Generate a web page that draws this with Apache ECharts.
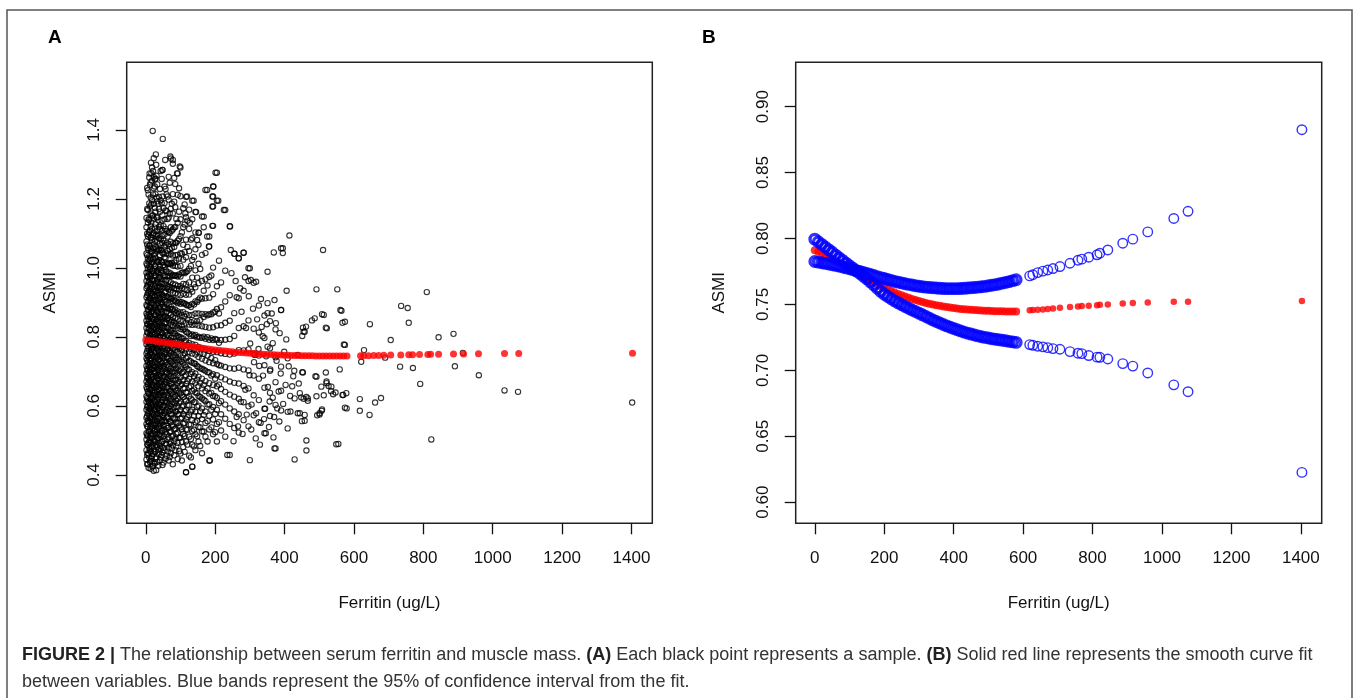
<!DOCTYPE html>
<html><head><meta charset="utf-8">
<script src="https://cdn.jsdelivr.net/npm/echarts@6/dist/echarts.min.js"></script>
<style>html,body{margin:0;padding:0;background:#fff}#c{width:1357px;height:698px}</style>
</head><body><div id="c"></div>
<script>
// ---- tick labels ----
const xTicks = [0, 200, 400, 600, 800, 1000, 1200, 1400];
const yTicksA = [0.4, 0.6, 0.8, 1.0, 1.2, 1.4];
const yTicksB = [0.60, 0.65, 0.70, 0.75, 0.80, 0.85, 0.90];

// ---- panel A samples: dense low-ferritin columns [ferritin, [ASMI values]] ----
const denseColumnsA = [
 [2,[0.445,0.472,0.503,0.521,0.548,0.566,0.589,0.612,0.628,0.655,0.671,0.694,0.716,0.738,0.752,0.779,0.804,0.826,0.847,0.868,0.893,0.915,0.941,0.962,0.986,1.013,1.042,1.077,1.118,1.145]],
 [6,[0.432,0.463,0.487,0.512,0.539,0.557,0.578,0.601,0.619,0.642,0.663,0.685,0.703,0.727,0.745,0.768,0.791,0.812,0.836,0.858,0.879,0.904,0.927,0.951,0.974,0.998,1.026,1.058,1.091,1.132,1.168,1.225]],
 [10,[0.451,0.479,0.496,0.527,0.552,0.571,0.594,0.608,0.635,0.652,0.676,0.698,0.712,0.735,0.761,0.785,0.798,0.821,0.843,0.866,0.887,0.911,0.934,0.958,0.981,1.005,1.034,1.065,1.104,1.139,1.187,1.262]],
 [14,[0.418,0.441,0.468,0.493,0.517,0.544,0.563,0.585,0.606,0.624,0.647,0.668,0.689,0.708,0.731,0.754,0.772,0.795,0.817,0.839,0.861,0.884,0.907,0.929,0.953,0.977,1.002,1.028,1.056,1.089,1.121,1.158,1.204,1.248]],
 [18,[0.425,0.455,0.483,0.508,0.535,0.559,0.581,0.603,0.621,0.644,0.662,0.683,0.706,0.724,0.748,0.766,0.788,0.809,0.831,0.853,0.874,0.898,0.919,0.943,0.966,0.991,1.018,1.047,1.081,1.113,1.152,1.196,1.253,1.291]],
 [23,[0.412,0.436,0.474,0.502,0.528,0.551,0.574,0.596,0.616,0.637,0.659,0.679,0.701,0.719,0.742,0.763,0.786,0.805,0.828,0.849,0.871,0.893,0.915,0.938,0.962,0.985,1.011,1.038,1.069,1.101,1.143,1.186,1.231,1.264,1.318]],
 [28,[0.447,0.469,0.498,0.524,0.547,0.568,0.592,0.611,0.633,0.654,0.673,0.696,0.715,0.737,0.758,0.779,0.801,0.823,0.845,0.863,0.885,0.909,0.931,0.955,0.979,1.004,1.029,1.061,1.094,1.127,1.163,1.214,1.259]],
 [33,[0.438,0.481,0.507,0.531,0.556,0.578,0.598,0.619,0.641,0.661,0.681,0.704,0.722,0.744,0.767,0.789,0.811,0.832,0.854,0.876,0.897,0.921,0.944,0.967,0.993,1.019,1.048,1.076,1.108,1.147,1.193,1.242]],
 [38,[0.461,0.492,0.515,0.541,0.562,0.586,0.606,0.627,0.648,0.667,0.689,0.711,0.733,0.752,0.774,0.796,0.818,0.839,0.861,0.882,0.905,0.926,0.949,0.973,0.997,1.023,1.054,1.086,1.119,1.171,1.206]],
 [43,[0.452,0.476,0.511,0.536,0.558,0.581,0.602,0.623,0.644,0.665,0.686,0.707,0.728,0.749,0.771,0.792,0.814,0.835,0.857,0.879,0.901,0.923,0.946,0.969,0.994,1.021,1.051,1.083,1.124,1.196,1.281]],
 [48,[0.429,0.466,0.498,0.529,0.553,0.574,0.597,0.618,0.639,0.661,0.682,0.703,0.725,0.746,0.768,0.789,0.811,0.833,0.855,0.876,0.899,0.921,0.943,0.967,0.992,1.016,1.044,1.072,1.109,1.153,1.207,1.284]],
 [54,[0.471,0.503,0.532,0.557,0.579,0.601,0.622,0.643,0.664,0.685,0.707,0.729,0.751,0.773,0.795,0.817,0.839,0.861,0.883,0.906,0.929,0.953,0.978,1.003,1.031,1.062,1.097,1.141,1.188,1.236]],
 [60,[0.456,0.488,0.518,0.543,0.567,0.589,0.611,0.632,0.654,0.676,0.697,0.719,0.741,0.762,0.784,0.806,0.828,0.851,0.873,0.895,0.918,0.941,0.965,0.989,1.014,1.042,1.073,1.107,1.165,1.213]],
 [66,[0.442,0.479,0.509,0.537,0.562,0.584,0.606,0.627,0.648,0.671,0.692,0.714,0.736,0.758,0.781,0.803,0.825,0.847,0.869,0.892,0.915,0.938,0.962,0.987,1.012,1.039,1.069,1.104,1.146,1.198,1.264]],
 [72,[0.463,0.495,0.527,0.553,0.577,0.599,0.621,0.642,0.664,0.686,0.708,0.731,0.753,0.775,0.797,0.819,0.842,0.864,0.887,0.911,0.935,0.959,0.984,1.011,1.041,1.076,1.118,1.171,1.317]],
 [78,[0.431,0.486,0.514,0.541,0.566,0.588,0.611,0.633,0.655,0.677,0.699,0.722,0.744,0.766,0.788,0.811,0.834,0.857,0.881,0.904,0.928,0.953,0.979,1.007,1.036,1.071,1.112,1.158,1.214,1.302]],
 [85,[0.472,0.506,0.534,0.561,0.584,0.607,0.629,0.651,0.674,0.696,0.718,0.741,0.763,0.786,0.809,0.832,0.855,0.879,0.903,0.927,0.952,0.978,1.006,1.037,1.073,1.119,1.176,1.243]],
 [92,[0.446,0.493,0.523,0.551,0.576,0.598,0.621,0.644,0.666,0.689,0.712,0.734,0.757,0.781,0.804,0.827,0.851,0.874,0.898,0.923,0.948,0.975,1.004,1.038,1.079,1.131,1.212,1.274]],
 [100,[0.462,0.508,0.538,0.564,0.589,0.613,0.636,0.659,0.683,0.706,0.729,0.752,0.776,0.799,0.823,0.847,0.871,0.896,0.921,0.947,0.975,1.006,1.043,1.092,1.141,1.208,1.291]],
 [108,[0.481,0.519,0.549,0.576,0.601,0.626,0.651,0.675,0.699,0.723,0.747,0.772,0.796,0.821,0.846,0.872,0.898,0.925,0.954,0.987,1.024,1.067,1.118,1.173]],
 [116,[0.408,0.497,0.532,0.561,0.588,0.614,0.639,0.664,0.689,0.714,0.739,0.764,0.789,0.815,0.841,0.867,0.894,0.922,0.953,0.988,1.031,1.082,1.147,1.206]],
 [125,[0.456,0.511,0.546,0.574,0.602,0.628,0.654,0.679,0.705,0.731,0.757,0.783,0.809,0.836,0.863,0.892,0.923,0.958,0.998,1.049,1.113,1.169]],
 [134,[0.424,0.488,0.527,0.559,0.589,0.617,0.644,0.671,0.698,0.725,0.752,0.779,0.807,0.835,0.864,0.896,0.931,0.972,1.023,1.086,1.141,1.195]],
 [143,[0.472,0.518,0.553,0.583,0.611,0.639,0.667,0.694,0.722,0.749,0.777,0.806,0.836,0.868,0.903,0.944,0.993,1.054,1.103,1.162]],
 [152,[0.497,0.539,0.571,0.601,0.629,0.657,0.685,0.713,0.742,0.771,0.801,0.833,0.868,0.908,0.956,1.012,1.067,1.102]],
 [162,[0.463,0.526,0.562,0.593,0.622,0.651,0.679,0.708,0.737,0.767,0.798,0.831,0.867,0.911,0.962,1.038,1.149]],
 [172,[0.511,0.551,0.584,0.614,0.643,0.672,0.702,0.732,0.763,0.795,0.829,0.866,0.912,0.967,1.043,1.226]],
 [183,[0.442,0.532,0.572,0.605,0.636,0.666,0.697,0.727,0.759,0.792,0.827,0.866,0.914,0.974,1.062,1.091]],
 [194,[0.518,0.561,0.597,0.629,0.661,0.692,0.724,0.757,0.791,0.828,0.871,0.924,1.001,1.122,1.178,1.207,1.236]],
 [205,[0.497,0.548,0.589,0.624,0.657,0.689,0.722,0.756,0.792,0.833,0.881,0.947,1.195,1.276]],
 [217,[0.529,0.576,0.614,0.649,0.683,0.717,0.753,0.791,0.834,0.886,0.958]],
 [229,[0.511,0.563,0.604,0.641,0.677,0.713,0.751,0.792,0.841,0.903,0.992,1.168]],
 [242,[0.458,0.548,0.593,0.633,0.671,0.709,0.749,0.794,0.847,0.921,1.121]],
 [255,[0.536,0.584,0.627,0.667,0.708,0.752,0.803,0.869,1.041]],
 [268,[0.523,0.576,0.621,0.665,0.711,0.762,0.826,0.912,1.028]],
 [282,[0.559,0.611,0.658,0.706,0.761,0.831,0.934,1.044]],
 [296,[0.541,0.599,0.651,0.703,0.764,0.848,0.962,0.999]],
 [311,[0.573,0.631,0.688,0.752,0.824,0.957]],
 [326,[0.553,0.617,0.679,0.746,0.813,0.891]],
 [342,[0.521,0.592,0.653,0.718,0.797,0.862]],
 [358,[0.571,0.638,0.702,0.767,0.846]],
 [374,[0.477,0.603,0.669,0.741,0.822]],
 [390,[0.587,0.644,0.714,0.878,1.057]]
];
// second, interleaved set of dense columns
const denseColumnsA2 = [
 [4,[0.431,0.458,0.489,0.516,0.541,0.571,0.597,0.623,0.649,0.681,0.707,0.733,0.759,0.786,0.814,0.838,0.862,0.889,0.921,0.947,0.976,1.008,1.037,1.068,1.099,1.171,1.232]],
 [8,[0.421,0.462,0.494,0.525,0.556,0.584,0.613,0.638,0.667,0.692,0.718,0.744,0.772,0.797,0.824,0.851,0.877,0.902,0.931,0.959,0.988,1.019,1.052,1.096,1.141,1.213]],
 [12,[0.438,0.474,0.506,0.534,0.566,0.592,0.617,0.646,0.673,0.699,0.723,0.751,0.779,0.806,0.832,0.859,0.886,0.913,0.939,0.968,0.996,1.024,1.063,1.109,1.178,1.241]],
 [16,[0.447,0.481,0.512,0.541,0.569,0.598,0.626,0.653,0.679,0.705,0.736,0.763,0.791,0.818,0.844,0.872,0.899,0.926,0.954,0.983,1.011,1.047,1.087,1.132,1.184,1.274]],
 [21,[0.426,0.462,0.491,0.519,0.548,0.577,0.607,0.632,0.661,0.688,0.716,0.744,0.771,0.799,0.826,0.853,0.881,0.908,0.936,0.964,0.993,1.027,1.058,1.096,1.152,1.213,1.281]],
 [26,[0.433,0.466,0.497,0.529,0.557,0.586,0.614,0.641,0.669,0.697,0.726,0.753,0.781,0.808,0.836,0.864,0.891,0.918,0.947,0.976,1.006,1.041,1.078,1.117,1.174,1.236]],
 [31,[0.451,0.488,0.519,0.549,0.576,0.603,0.631,0.658,0.686,0.713,0.741,0.769,0.796,0.824,0.851,0.879,0.907,0.934,0.961,0.989,1.021,1.056,1.097,1.146,1.204,1.267]],
 [36,[0.427,0.473,0.506,0.537,0.566,0.594,0.622,0.649,0.677,0.705,0.733,0.761,0.789,0.816,0.844,0.871,0.899,0.928,0.957,0.986,1.017,1.052,1.094,1.138,1.186]],
 [41,[0.443,0.484,0.518,0.547,0.575,0.604,0.632,0.659,0.688,0.716,0.744,0.772,0.801,0.829,0.857,0.886,0.914,0.943,0.973,1.004,1.037,1.071,1.113,1.163,1.229]],
 [46,[0.458,0.496,0.527,0.556,0.584,0.612,0.641,0.669,0.697,0.725,0.754,0.782,0.811,0.839,0.867,0.896,0.925,0.955,0.985,1.018,1.052,1.092,1.137,1.188,1.258]],
 [51,[0.436,0.479,0.513,0.545,0.573,0.602,0.631,0.658,0.687,0.715,0.744,0.772,0.801,0.829,0.858,0.887,0.916,0.946,0.976,1.008,1.041,1.079,1.121,1.173]],
 [57,[0.447,0.491,0.524,0.555,0.584,0.613,0.641,0.669,0.698,0.726,0.755,0.784,0.813,0.842,0.871,0.901,0.931,0.962,0.995,1.028,1.067,1.113,1.167,1.229]],
 [63,[0.468,0.503,0.536,0.566,0.595,0.623,0.652,0.681,0.709,0.738,0.767,0.796,0.825,0.855,0.884,0.914,0.945,0.977,1.011,1.049,1.091,1.142,1.207]],
 [69,[0.452,0.491,0.524,0.556,0.586,0.615,0.644,0.673,0.702,0.731,0.761,0.791,0.821,0.851,0.881,0.912,0.944,0.977,1.013,1.054,1.101,1.158,1.247]],
 [75,[0.477,0.512,0.545,0.576,0.606,0.636,0.666,0.696,0.726,0.756,0.786,0.817,0.848,0.879,0.911,0.943,0.978,1.015,1.058,1.108,1.186]],
 [82,[0.457,0.497,0.532,0.564,0.595,0.626,0.656,0.687,0.717,0.748,0.779,0.811,0.842,0.874,0.907,0.941,0.977,1.016,1.061,1.117,1.192,1.261]],
 [88,[0.483,0.519,0.552,0.584,0.615,0.646,0.677,0.708,0.739,0.771,0.803,0.836,0.869,0.903,0.939,0.978,1.022,1.073,1.142]],
 [96,[0.469,0.508,0.543,0.576,0.608,0.639,0.671,0.702,0.734,0.767,0.799,0.833,0.867,0.902,0.939,0.981,1.027,1.084,1.163,1.231]],
 [104,[0.442,0.496,0.532,0.566,0.598,0.631,0.663,0.696,0.728,0.762,0.795,0.829,0.864,0.901,0.941,0.986,1.041,1.103]],
 [112,[0.467,0.513,0.551,0.585,0.619,0.652,0.686,0.719,0.753,0.788,0.823,0.859,0.897,0.938,0.985,1.046,1.126,1.184]],
 [120,[0.488,0.531,0.568,0.603,0.638,0.672,0.707,0.742,0.777,0.813,0.851,0.891,0.936,0.991,1.061,1.137]],
 [130,[0.451,0.504,0.546,0.584,0.621,0.657,0.693,0.729,0.766,0.803,0.843,0.887,0.939,1.006,1.082]],
 [139,[0.483,0.531,0.572,0.611,0.648,0.686,0.724,0.763,0.803,0.846,0.894,0.953,1.032]],
 [148,[0.512,0.557,0.598,0.637,0.676,0.716,0.757,0.799,0.846,0.901,0.972,1.081]],
 [157,[0.484,0.538,0.584,0.626,0.667,0.709,0.752,0.798,0.849,0.914,0.997]],
 [167,[0.526,0.574,0.618,0.661,0.705,0.751,0.801,0.858,0.934,1.118]],
 [178,[0.497,0.556,0.604,0.651,0.698,0.746,0.799,0.863,0.949]],
 [189,[0.538,0.589,0.638,0.688,0.739,0.796,0.866,0.978]],
 [200,[0.524,0.577,0.628,0.679,0.733,0.794,0.873]],
 [211,[0.553,0.608,0.662,0.718,0.783,0.868,1.021]]
];

// ---- panel A samples: scattered points [ferritin, ASMI] ----
const samplesSparseA = [
 [20,1.397],[49,1.374],[29,1.329],[71,1.323],[78,1.313],[56,1.313],[15,1.305],[30,1.299],[98,1.294],[48,1.284],
 [201,1.276],[90,1.274],[11,1.274],[27,1.257],[195,1.236],[177,1.226],[192,1.207],[209,1.195],[192,1.178],[225,1.168],
 [119,1.207],[138,1.195],[114,1.158],[145,1.162],[167,1.149],[243,1.120],[127,1.131],[192,1.122],[153,1.102],[177,1.091],
 [414,1.094],[182,1.062],[245,1.052],[511,1.052],[369,1.045],[395,1.057],[395,1.043],[256,1.041],[282,1.044],[268,1.028],
 [300,0.999],[351,0.989],[406,0.934],[492,0.938],[552,0.938],[564,0.876],[303,0.965],[318,0.960],[332,0.910],[351,0.898],
 [371,0.907],[390,0.878],[351,0.869],[375,0.840],[513,0.864],[487,0.854],[462,0.830],[458,0.815],[522,0.825],[574,0.844],
 [574,0.777],[405,0.793],[366,0.782],[351,0.772],[409,0.738],[453,0.697],[492,0.685],[521,0.671],[535,0.656],[547,0.639],
 [569,0.632],[579,0.593],[429,0.622],[448,0.625],[467,0.622],[438,0.579],[458,0.574],[501,0.579],[508,0.590],[417,0.584],
 [458,0.557],[409,0.535],[385,0.555],[463,0.500],[463,0.471],[429,0.445],[555,0.490],[300,0.443],[235,0.458],[185,0.442],
 [116,0.408],[134,0.424],[30,0.414],[346,0.521],[371,0.477],
 [810,0.930],[736,0.890],[755,0.884],[561,0.878],[567,0.841],[508,0.866],[479,0.848],[519,0.827],[646,0.837],[758,0.841],
 [453,0.827],[455,0.815],[451,0.803],[844,0.799],[887,0.809],[706,0.791],[571,0.778],[629,0.762],[914,0.754],[690,0.740],
 [621,0.728],[733,0.714],[770,0.710],[891,0.715],[559,0.706],[451,0.698],[519,0.697],[489,0.686],[960,0.689],[791,0.664],
 [506,0.656],[521,0.666],[527,0.658],[534,0.643],[540,0.634],[513,0.631],[492,0.628],[567,0.632],[578,0.637],[1034,0.645],
 [1073,0.641],[1402,0.610],[617,0.620],[678,0.623],[661,0.610],[444,0.637],[455,0.621],[463,0.626],[467,0.615],[574,0.595],
 [617,0.586],[645,0.574],[494,0.573],[501,0.575],[507,0.586],[450,0.556],[549,0.489],[823,0.503],[444,0.579],
 [262,0.915],[276,0.873],[289,0.826],[301,0.781],[314,0.748],[327,0.716],[338,0.688],[352,0.655],[366,0.624],[379,0.593],
 [262,0.568],[274,0.612],[287,0.647],[299,0.689],[312,0.727],[325,0.765],[337,0.802],[349,0.837],[363,0.868],[377,0.731],
 [389,0.694],[403,0.661],[416,0.629],[428,0.702],[441,0.665],[386,0.811],[399,0.757],[412,0.715],[425,0.686],[438,0.748],
 [305,0.604],[318,0.579],[331,0.551],[344,0.592],[357,0.613],[370,0.568],[383,0.642],[396,0.606],[409,0.583],[422,0.657],
 [247,0.985],[259,0.962],[272,0.941],[286,0.973],[297,0.918],[309,0.882],[321,0.851],[334,0.829],[347,0.744],[359,0.706],
 [253,0.498],[266,0.541],[279,0.519],[291,0.575],[304,0.532],[317,0.506],[329,0.488],[341,0.562],[355,0.539],[368,0.509]
];

// ---- smooth fit and 95% CI (panel B, red fit also in panel A) ----
const fitFerritin = [0,10,20,30,40,50,60,70,80,90,100,110,120,130,140,150,160,170,180,190,200,210,220,230,240,250,260,270,280,290,300,310,320,330,340,350,360,370,380,390,400,410,420,430,440,450,460,470,480,490,500,510,520,530,540,550,560,570,580,619,628,642,657,671,686,706,735,758,769,789,813,821,844,887,916,959,1034,1075,1403];
const fitASMI = [0.7911,0.7900,0.7888,0.7875,0.7861,0.7847,0.7833,0.7818,0.7802,0.7786,0.7770,0.7754,0.7739,0.7723,0.7708,0.7693,0.7679,0.7665,0.7651,0.7638,0.7625,0.7613,0.7601,0.7590,0.7579,0.7569,0.7559,0.7550,0.7541,0.7533,0.7525,0.7518,0.7511,0.7505,0.7499,0.7494,0.7489,0.7484,0.7480,0.7476,0.7472,0.7469,0.7466,0.7463,0.7461,0.7459,0.7457,0.7455,0.7454,0.7452,0.7451,0.7450,0.7449,0.7448,0.7448,0.7447,0.7447,0.7447,0.7447,0.7455,0.7457,0.7459,0.7462,0.7465,0.7468,0.7474,0.7480,0.7484,0.7487,0.7490,0.7494,0.7497,0.7500,0.7507,0.7510,0.7515,0.7520,0.7520,0.7525];
const ciBandA = [0.7995,0.7975,0.7955,0.7935,0.7915,0.7895,0.7874,0.7854,0.7834,0.7813,0.7793,0.7774,0.7754,0.7734,0.7714,0.7694,0.7671,0.7647,0.7623,0.7599,0.7577,0.7560,0.7543,0.7527,0.7512,0.7497,0.7484,0.7471,0.7458,0.7446,0.7434,0.7421,0.7408,0.7395,0.7382,0.7370,0.7359,0.7348,0.7337,0.7327,0.7317,0.7308,0.7299,0.7290,0.7282,0.7275,0.7268,0.7261,0.7255,0.7250,0.7245,0.7240,0.7236,0.7232,0.7228,0.7224,0.7220,0.7216,0.7212,0.7195,0.7190,0.7183,0.7178,0.7172,0.7165,0.7160,0.7142,0.7130,0.7127,0.7112,0.7100,0.7099,0.7086,0.7051,0.7032,0.6980,0.6890,0.6838,0.6226];
const ciBandB = [0.7825,0.7821,0.7816,0.7811,0.7806,0.7801,0.7796,0.7790,0.7784,0.7777,0.7770,0.7763,0.7756,0.7749,0.7742,0.7735,0.7727,0.7719,0.7711,0.7703,0.7696,0.7689,0.7682,0.7675,0.7669,0.7663,0.7657,0.7652,0.7647,0.7642,0.7638,0.7634,0.7631,0.7628,0.7626,0.7624,0.7622,0.7621,0.7620,0.7620,0.7620,0.7620,0.7621,0.7622,0.7624,0.7626,0.7628,0.7631,0.7634,0.7637,0.7641,0.7645,0.7650,0.7655,0.7661,0.7667,0.7673,0.7680,0.7687,0.7716,0.7725,0.7741,0.7752,0.7761,0.7772,0.7787,0.7812,0.7835,0.7843,0.7858,0.7876,0.7888,0.7913,0.7964,0.7995,0.8050,0.8152,0.8206,0.8825];

// ---- build series data ----
const blackA = [];
denseColumnsA.concat(denseColumnsA2).forEach(([f, ys]) => ys.forEach(y => blackA.push([f, y])));
samplesSparseA.forEach(p => blackA.push(p));
const fitPts = fitFerritin.map((f, i) => [f, fitASMI[i]]);
const ciPtsA = fitFerritin.map((f, i) => [f, ciBandA[i]]);
const ciPtsB = fitFerritin.map((f, i) => [f, ciBandB[i]]);
const nBand = fitFerritin.filter(f => f <= 580).length;   // continuous part of the band

const FONT = '"Liberation Sans", Arial, sans-serif';
const INK = '#111';

function xAxisDef(gi) {
  return {
    gridIndex: gi, type: 'value', min: -55, max: 1460,
    axisLine: { show: false, onZero: false }, splitLine: { show: false },
    axisTick: { show: true, customValues: xTicks, length: 11, lineStyle: { color: INK, width: 1.3 } },
    axisLabel: { customValues: xTicks, fontSize: 17, color: INK, margin: 27, fontFamily: FONT,
                 formatter: v => String(v) },
    name: 'Ferritin (ug/L)', nameLocation: 'middle', nameGap: 72,
    nameTextStyle: { fontSize: 17, color: INK, fontFamily: FONT }
  };
}
function yAxisDef(gi, min, max, ticks, dec) {
  return {
    gridIndex: gi, type: 'value', min: min, max: max,
    axisLine: { show: false, onZero: false }, splitLine: { show: false },
    axisTick: { show: true, customValues: ticks, length: 11, lineStyle: { color: INK, width: 1.3 } },
    axisLabel: { customValues: ticks, rotate: 90, fontSize: 17, color: INK, margin: 24, fontFamily: FONT,
                 formatter: v => Number(v).toFixed(dec) },
    name: 'ASMI', nameLocation: 'middle', nameGap: 68, nameRotate: 90,
    nameTextStyle: { fontSize: 17, color: INK, fontFamily: FONT }
  };
}
const ring = (color, w) => ({ color: 'rgba(0,0,0,0)', borderColor: color, borderWidth: w });

const option = {
  animation: false,
  backgroundColor: '#fff',
  grid: [
    { left: 126.7, top: 62.3, width: 525.6, height: 461, show: true, borderColor: '#222', borderWidth: 1.5, backgroundColor: 'transparent' },
    { left: 795.7, top: 62.3, width: 526, height: 461, show: true, borderColor: '#222', borderWidth: 1.5, backgroundColor: 'transparent' }
  ],
  xAxis: [xAxisDef(0), xAxisDef(1)],
  yAxis: [yAxisDef(0, 0.26, 1.596, yTicksA, 1), yAxisDef(1, 0.584, 0.9336, yTicksB, 2)],
  series: [
    { type: 'scatter', xAxisIndex: 0, yAxisIndex: 0, data: blackA, symbol: 'circle', symbolSize: 5.3,
      itemStyle: ring('#000', 1.1), silent: true },
    { type: 'scatter', xAxisIndex: 0, yAxisIndex: 0, data: fitPts, symbol: 'circle', symbolSize: 7,
      itemStyle: { color: '#ff0000' }, silent: true },
    { type: 'scatter', xAxisIndex: 1, yAxisIndex: 1, data: fitPts.slice(0, nBand), symbol: 'circle', symbolSize: 8,
      itemStyle: { color: '#ff0000' }, silent: true },
    { type: 'scatter', xAxisIndex: 1, yAxisIndex: 1, data: fitPts.slice(nBand), symbol: 'circle', symbolSize: 6.5,
      itemStyle: { color: '#ff0000' }, silent: true },
    { type: 'scatter', xAxisIndex: 1, yAxisIndex: 1, data: ciPtsA.slice(0, nBand), symbol: 'circle', symbolSize: 9.5,
      itemStyle: ring('#0000ff', 3.4), silent: true },
    { type: 'scatter', xAxisIndex: 1, yAxisIndex: 1, data: ciPtsB.slice(0, nBand), symbol: 'circle', symbolSize: 9.5,
      itemStyle: ring('#0000ff', 3.4), silent: true },
    { type: 'scatter', xAxisIndex: 1, yAxisIndex: 1, data: ciPtsA.slice(nBand).concat(ciPtsB.slice(nBand)), symbol: 'circle', symbolSize: 9.5,
      itemStyle: ring('#0000ff', 1.4), silent: true }
  ],
  graphic: [
    { type: 'polyline', silent: true, shape: { points: [[7, 698], [7, 10], [1352, 10], [1352, 698]] },
      style: { stroke: '#555', fill: null, lineWidth: 1.5 } },
    { type: 'text', left: 48, top: 28, silent: true,
      style: { text: 'A', font: 'bold 19px ' + FONT, fill: '#000' } },
    { type: 'text', left: 702, top: 28, silent: true,
      style: { text: 'B', font: 'bold 19px ' + FONT, fill: '#000' } },
    { type: 'text', left: 22, top: 646, silent: true,
      style: {
        text: '{b|FIGURE 2 |} The relationship between serum ferritin and muscle mass. {b|(A)} Each black point represents a sample. {b|(B)} Solid red line represents the smooth curve fit',
        font: '18px ' + FONT, fill: '#333',
        rich: { b: { fontWeight: 'bold', fontSize: 18, fontFamily: FONT, fill: '#222' } }
      } },
    { type: 'text', left: 22, top: 673, silent: true,
      style: { text: 'between variables. Blue bands represent the 95% of confidence interval from the fit.',
               font: '18px ' + FONT, fill: '#333' } }
  ]
};
const chart = echarts.init(document.getElementById('c'), null, { renderer: 'canvas' });
chart.setOption(option);
</script>
</body></html>
